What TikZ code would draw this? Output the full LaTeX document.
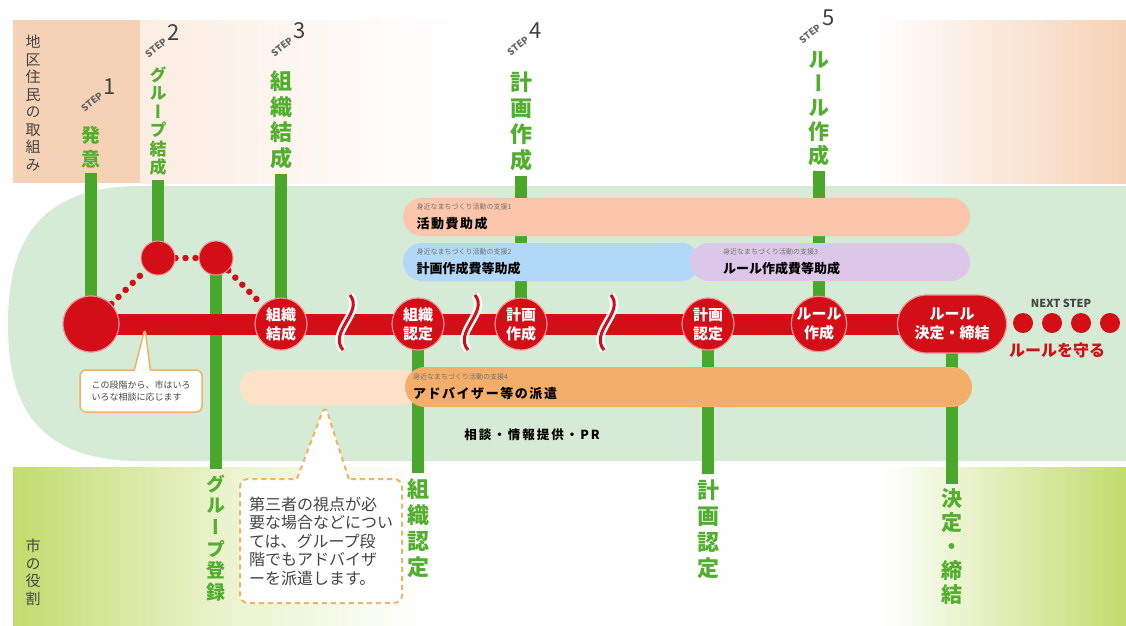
\documentclass[tikz,border=0pt]{standalone}
\usepackage{fontspec}
\setmainfont{Noto Sans CJK JP}
\newfontfamily\jpvert[RawFeature=+vert]{Noto Sans CJK JP}
\usepackage{tikz}
\usetikzlibrary{shapes.callouts}

\definecolor{bandpeach}{HTML}{F5D2B6}
\definecolor{bandgreen}{HTML}{C2DC6E}
\definecolor{mint}{HTML}{D6EBD5}
\definecolor{stepgreen}{HTML}{4BA72B}
\definecolor{labelgreen}{HTML}{52AE2E}
\definecolor{mainred}{HTML}{D30E17}
\definecolor{salmon}{HTML}{FBC6AC}
\definecolor{skyblue}{HTML}{B1D8F6}
\definecolor{lavender}{HTML}{DDC7E9}
\definecolor{advorange}{HTML}{F5AE6A}
\definecolor{advpale}{HTML}{FDE2C8}
\definecolor{noteorange}{HTML}{F0B264}
\definecolor{inkgray}{HTML}{444444}

\newcommand\fundsub[1]{{\fontsize{7}{9}\selectfont\color{black!55}#1}}

\pgfdeclarelayer{bg}
\pgfdeclarelayer{mid}
\pgfsetlayers{bg,mid,main}

\begin{document}
\begin{tikzpicture}[x=1pt,y=-1pt,
  vlab/.style n args={2}{text=labelgreen,font=\jpvert\bfseries\fontsize{#1}{#2}\selectfont,align=center,inner sep=0pt},
  sidelab/.style={text=inkgray,font=\jpvert\fontsize{15}{17.5}\selectfont,align=center,inner sep=0pt},
  steptag/.style={text=black!60,font=\bfseries\fontsize{9.5}{9.5}\selectfont,rotate=38,inner sep=0pt},
  stepnum/.style={text=black!75,font=\fontsize{22}{22}\selectfont,inner sep=0pt,anchor=south west},
  redstop/.style={circle,fill=mainred,draw=mainred!45,line width=1.2pt,minimum size=52pt,inner sep=0pt,text=white,align=center,font=\bfseries\fontsize{15}{19}\selectfont},
  substop/.style={circle,fill=mainred,draw=mainred!45,line width=1pt,minimum size=34pt,inner sep=0pt},
  stepbar/.style={draw=stepgreen,line width=12pt},
  redline/.style={draw=mainred,line width=21pt},
  reddots/.style={draw=mainred,line width=6.5pt,line cap=round,dash pattern=on 0pt off 10pt},
  fund/.style={rounded corners=19pt,inner sep=0pt,minimum height=38pt,align=left,font=\fontsize{13}{15}\selectfont}]
\useasboundingbox (0,0) rectangle (1126,625);

\begin{pgfonlayer}{bg}
\fill[bandpeach] (13,20) rectangle (140,183);
\shade[left color=bandpeach!40,right color=white] (140,20) rectangle (460,183);
\shade[left color=white,right color=bandpeach] (870,20) rectangle (1126,183);
\shade[left color=bandgreen,right color=white,middle color=bandgreen!35] (13,467) rectangle (430,625);
\shade[left color=white,right color=bandgreen] (880,467) rectangle (1126,625);
\fill[mint] (140,186) .. controls (25,186) and (8,260) .. (8,324)
  .. controls (8,390) and (25,461) .. (140,461) -- (1126,461) -- (1126,186) -- cycle;
\end{pgfonlayer}

\node[sidelab] (torikumi) at (33,103) {地\\区\\住\\民\\の\\取\\組\\み};
\node[sidelab] (yakuwari) at (33,572) {市\\の\\役\\割};

\node[steptag] (tag1) at (92,102) {STEP};
\node[stepnum] (num1) at ([xshift=2pt]tag1.east) {1};
\node[steptag] (tag2) at (156,48) {STEP};
\node[stepnum] (num2) at ([xshift=2pt]tag2.east) {2};
\node[steptag] (tag3) at (282,47) {STEP};
\node[stepnum] (num3) at ([xshift=2pt]tag3.east) {3};
\node[steptag] (tag4) at (518,46) {STEP};
\node[stepnum] (num4) at ([xshift=2pt]tag4.east) {4};
\node[steptag] (tag5) at (810,34) {STEP};
\node[stepnum] (num5) at ([xshift=2pt]tag5.east) {5};

\node[vlab={19}{24}] (lab1) at (91,147) {発\\意};
\node[vlab={17}{18.5}] (lab2) at (158,121) {グ\\ル\\ー\\プ\\結\\成};
\node[vlab={22}{25.5}] (lab3) at (281,120) {組\\織\\結\\成};
\node[vlab={22}{26}] (lab4) at (521,121) {計\\画\\作\\成};
\node[vlab={21}{24}] (lab5) at (819,109) {ル\\ー\\ル\\作\\成};

\node[vlab={19}{21.7}] (blab2) at (216,538) {グ\\ル\\ー\\プ\\登\\録};
\node[vlab={22}{26}] (blab3) at (418,528) {組\\織\\認\\定};
\node[vlab={22}{26}] (blab4) at (708,529) {計\\画\\認\\定};
\node[vlab={21}{24}] (blab5) at (952,547) {決\\定\\・\\締\\結};

\node[redstop,minimum size=56pt] (start) at (91,324) {};
\node[substop] (g1) at (158,258) {};
\node[substop] (g2) at (216,258) {};
\node[redstop] (kessei) at (281,324) {組織\\結成};
\node[redstop] (nintei) at (418,324) {組織\\認定};
\node[redstop] (keikaku) at (521,324) {計画\\作成};
\node[redstop] (knintei) at (708,324) {計画\\認定};
\node[redstop] (rsaku) at (819,324) {ルール\\作成};
\node[redstop,rectangle,rounded corners=29pt,minimum width=109pt,minimum height=58pt] (rkettei) at (952,324) {ルール\\決定・締結};

\node[fund,fill=salmon,minimum width=567pt,text width=540pt] (hojo1) at (686.5,217)
  {\fundsub{身近なまちづくり活動の支援1}\\[4pt]{\bfseries\addfontfeature{LetterSpace=12}活動費助成}};
\node[fund,fill=skyblue,minimum width=297pt,text width=270pt] (hojo2) at (551.5,262)
  {\fundsub{身近なまちづくり活動の支援2}\\[4pt]{\bfseries 計画作成費等助成}};
\node[fund,fill=lavender,minimum width=280pt,text width=214pt] (hojo3) at (830,262)
  {\fundsub{身近なまちづくり活動の支援3}\\[4pt]{\bfseries ルール作成費等助成}};
\node[fund,fill=advpale,minimum width=180pt,minimum height=35pt,rounded corners=17pt] (advpale) at (330,387.5) {};
\node[fund,fill=advorange,minimum width=567pt,minimum height=40pt,rounded corners=20pt,text width=551pt] (haken) at (688.5,387)
  {\fundsub{身近なまちづくり活動の支援4}\\[4pt]{\bfseries\addfontfeature{LetterSpace=12}アドバイザー等の派遣}};
\node[font=\bfseries\fontsize{12.5}{14}\selectfont\addfontfeature{LetterSpace=16}] (soudan) at (532,435) {相談・情報提供・PR};

\coordinate (tip1) at (145,328);
\node[rectangle callout,callout absolute pointer={(tip1)},callout pointer width=16pt,fill=white,draw=noteorange,line width=1.5pt,rounded corners=6pt,minimum width=122pt,minimum height=42pt,inner sep=2pt,align=left,text=inkgray,font=\fontsize{9}{12}\selectfont] (note1) at (141,391) {この段階から、市はいろ\\いろな相談に応じます};

\coordinate (tip2) at (325,405);
\node[rectangle callout,callout absolute pointer={(tip2)},callout pointer width=52pt,fill=white,draw=noteorange,line width=2pt,dash pattern=on 5pt off 4pt,rounded corners=8pt,minimum width=162pt,minimum height=124pt,inner sep=2pt,align=left,text=inkgray,font=\fontsize{16}{18.5}\selectfont] (note2) at (321,541) {第三者の視点が必\\要な場合などについ\\ては、グループ段\\階でもアドバイザ\\ーを派遣します。};

\node[text=inkgray,font=\bfseries\fontsize{11}{11}\selectfont] (nexttxt) at (1061,303) {NEXT STEP};
\foreach \i in {0,...,3}
  \node[circle,fill=mainred,minimum size=20pt,inner sep=0pt] (nd\i) at (1023+29*\i,323) {};
\node[text=mainred,font=\bfseries\fontsize{16}{16}\selectfont] (mamoru) at (1057,350) {ルールを守る};

\begin{pgfonlayer}{mid}
\draw[stepbar,shorten <=5pt] (lab1.south) -- (start.center);
\draw[stepbar,shorten <=4pt] (lab2.south) -- (g1.center);
\draw[stepbar,shorten <=5pt] (lab3.south) -- (kessei.center);
\draw[stepbar,shorten <=5pt] (lab4.south) -- (keikaku.center);
\draw[stepbar,shorten <=5pt] (lab5.south) -- (rsaku.center);
\draw[stepbar,shorten >=5pt] (g2.center) -- (blab2.north);
\draw[stepbar,shorten >=5pt] (nintei.center) -- (blab3.north);
\draw[stepbar,shorten >=5pt] (knintei.center) -- (blab4.north);
\draw[stepbar,shorten >=5pt] (rkettei.center) -- (blab5.north);
\draw[redline] (start.center) -- (rkettei.center);
\draw[reddots] (start) -- (g1);
\draw[reddots] (g1) -- (g2);
\draw[reddots] (g2) -- (kessei);
\end{pgfonlayer}

\foreach \sx in {346,471,607}{
  \draw[white,line width=8pt] (\sx+4,295) .. controls (\sx+18,312) and (\sx-18,332) .. (\sx-3,350);
  \draw[mainred,line width=3pt] (\sx+4,295) .. controls (\sx+18,312) and (\sx-18,332) .. (\sx-3,350);
}
\end{tikzpicture}
\end{document}
